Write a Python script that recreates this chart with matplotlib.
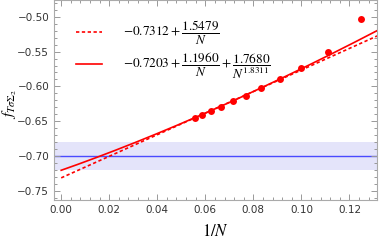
import matplotlib
matplotlib.use("Agg")
import matplotlib.pyplot as plt
import numpy as np
from matplotlib.ticker import MultipleLocator

# data
n_values = [8, 9, 10, 11, 12, 13, 14, 15, 16, 17, 18]
f_values = [-0.5029, -0.5503, -0.5733, -0.5890, -0.6020, -0.6135,
            -0.6207, -0.6293, -0.6350, -0.6408, -0.6451]

fit1 = (-0.7312, 1.5479)
fit2 = (-0.7203, 1.1960, 1.7680, 1.8311)

ref_value = -0.70
ref_err = 0.02

plt.rcParams['mathtext.fontset'] = 'stix'

fig = plt.figure(figsize=(3.81, 2.41), dpi=100)
ax = fig.add_axes([0.1417, 0.170, 0.848, 0.830])

inv_n = 1.0 / np.array(n_values)
xs = np.linspace(0, 0.135, 300)

ax.axhspan(ref_value - ref_err, ref_value + ref_err, color='#e4e4fa', lw=0, zorder=0)
ax.axhline(ref_value, color='#4a4aff', lw=1.0, zorder=1)

lbl1 = r'$%.4f+\dfrac{%.4f}{N}$' % fit1
lbl2 = r'$%.4f+\dfrac{%.4f}{N}+\dfrac{%.4f}{N^{%.4f}}$' % fit2
ax.plot(xs, fit1[0] + fit1[1] * xs, color='red', lw=1.2, ls=(0, (2, 1.5)), label=lbl1, zorder=2)
ax.plot(xs, fit2[0] + fit2[1] * xs + fit2[2] * xs ** fit2[3], color='red', lw=1.2, label=lbl2, zorder=2)
ax.plot(inv_n, f_values, 'o', color='red', ms=5, mec='none', zorder=3)

ax.set_xlim(-0.003, 0.1315)
ax.set_ylim(-0.763, -0.476)

ax.xaxis.set_major_locator(MultipleLocator(0.02))
ax.xaxis.set_minor_locator(MultipleLocator(0.004))
ax.yaxis.set_major_locator(MultipleLocator(0.05))
ax.yaxis.set_minor_locator(MultipleLocator(0.01))
ax.xaxis.set_major_formatter(plt.FormatStrFormatter('%.2f'))
ax.yaxis.set_major_formatter(plt.FuncFormatter(lambda v, p: ('%.2f' % v).replace('-', '\u2212')))

ax.tick_params(which='both', direction='in', top=True, right=True, color='#999999',
               labelsize=7.5, labelcolor='#333333', width=0.7)
ax.tick_params(which='major', length=4)
ax.tick_params(which='minor', length=2)
for s in ax.spines.values():
    s.set_color('#aaaaaa')
    s.set_linewidth(0.8)

ax.set_xlabel(r'$1/N$', fontsize=12)
ax.xaxis.set_label_coords(0.5, -0.11)
ax.set_ylabel(r'$f_{T\sigma\Sigma_2}$', fontsize=11)
ax.yaxis.set_label_coords(-0.108, 0.48)

ax.legend(loc='upper left', bbox_to_anchor=(0.03, 0.965), frameon=False, fontsize=9.5,
          handlelength=2.0, handletextpad=1.6, labelspacing=0.3)

fig.savefig('out.png', dpi=100)
